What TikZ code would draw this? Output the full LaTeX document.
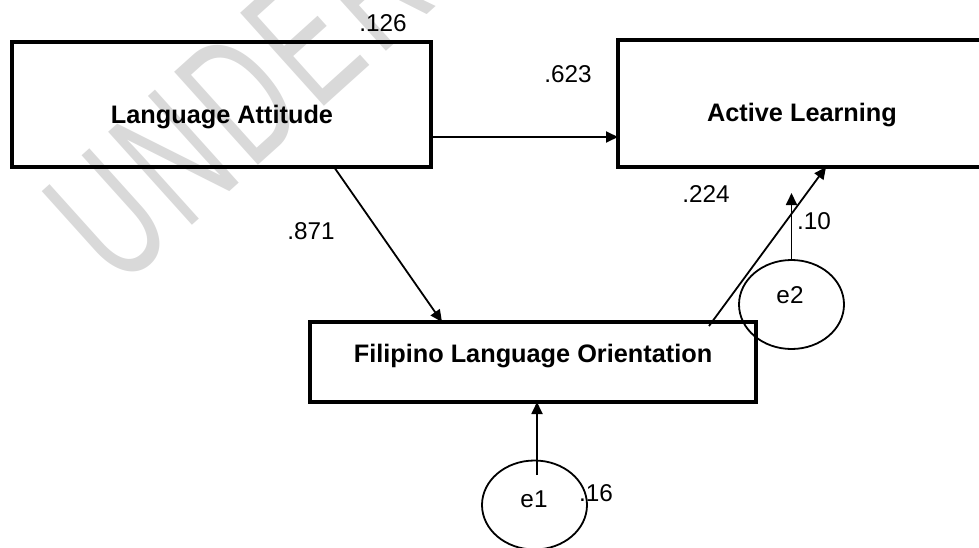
\documentclass[tikz,border=0pt]{standalone}
\usepackage{fontspec}
\setmainfont{Liberation Sans}
\usetikzlibrary{arrows.meta,shapes.geometric}
\begin{document}
\begin{tikzpicture}[x=1pt,y=-1pt,
  box/.style={draw,line width=3.3pt,inner sep=0pt,outer sep=0pt,rectangle},
  errc/.style={draw,ellipse,line width=1.8pt,inner sep=0pt,outer sep=0pt,minimum width=105pt,minimum height=89pt},
  lbl/.style={font=\fontsize{25.3}{30}\selectfont\bfseries,anchor=base,inner sep=0pt},
  num/.style={font=\fontsize{24.3}{29}\selectfont,anchor=base,inner sep=0pt},
  arr/.style={line width=1.8pt,-{Triangle[length=12pt,width=11pt]}},
  wmark/.style={text=gray!30,rotate=42,anchor=base west,inner sep=0pt,font=\fontsize{182}{190}\selectfont\addfontfeature{LetterSpace=6.6}}]
\useasboundingbox (0,0) rectangle (979,548);
\clip (0,0) rectangle (979,548);
% watermark
\node[wmark] (wm) at (119.6,291) {\scalebox{0.62}[1]{UNDER}};
% boxes
\node[box,minimum width=419pt,minimum height=125pt] (LA) at (221.5,104.5) {};
\node[box,minimum width=372pt,minimum height=127pt] (AL) at (804,103.5) {};
\node[box,minimum width=446pt,minimum height=80pt] (FLO) at (533,362) {};
\node[errc] (e2) at (791.5,304.5) {};
\node[errc] (e1) at (534.5,505) {};
% box texts
\node[lbl] (LAt) at (222,124) {Language Attitude};
\node[lbl] (ALt) at (802,122) {Active Learning};
\node[lbl] (FLOt) at (533,362) {Filipino Language Orientation};
% numbers
\node[num] (n126) at (383,32) {.126};
\node[num] (n623) at (568,83) {.623};
\node[num] (n871) at (311,239) {.871};
\node[num] (n224) at (706,202) {.224};
\node[num] (n10) at (814,229) {.10};
\node[num] (e2t) at (790,303) {e2};
\node[num] (e1t) at (534,507) {e1};
\node[num] (n16) at (596,501) {.16};
% connectors
\coordinate (e2end) at (791.5,193);
\coordinate (e1start) at (537,475);
\draw[arr] ([yshift=-32.5pt]LA.east) -- ([yshift=-33.5pt]AL.west);
\draw[arr] ([xshift=112.5pt]LA.south) -- ([xshift=-91pt]FLO.north);
\draw[arr] ([xshift=176pt,yshift=-4pt]FLO.north) -- ([xshift=22pt]AL.south);
\draw[arr] (e2.north) -- (e2end);
\draw[arr] (e1start) -- ([xshift=4pt]FLO.south);
\end{tikzpicture}
\end{document}
